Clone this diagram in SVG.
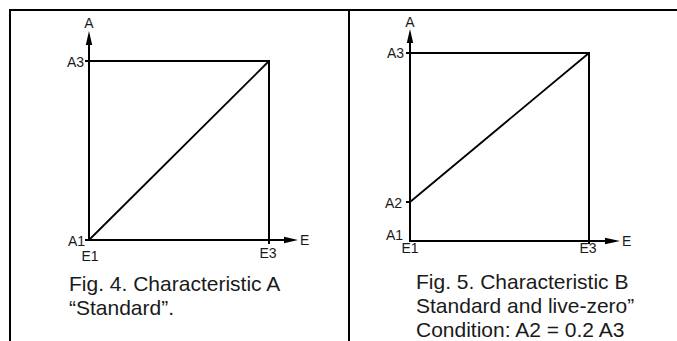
<svg xmlns="http://www.w3.org/2000/svg" width="677" height="341" viewBox="0 0 677 341">
<style>
.ln{stroke:#000;stroke-width:2;fill:none}
.dg{stroke:#000;stroke-width:1.8;fill:none}
.ah{fill:#000;stroke:none}
.lb{font-family:"Liberation Sans",Arial,sans-serif;font-size:14px;fill:#1a1a1a}
.cap{font-family:"Liberation Sans",Arial,sans-serif;font-size:21px;fill:#1a1a1a}
</style>
<rect width="677" height="341" fill="#fff"/>
<g id="frame">
<line class="ln" x1="9" y1="10" x2="677" y2="10"/>
<line class="ln" x1="10" y1="9" x2="10" y2="341"/>
<line class="ln" x1="349" y1="10" x2="349" y2="341"/>
</g>
<g id="chart-a">
<line class="ln" x1="89" y1="241" x2="89" y2="43"/>
<polygon class="ah" points="89,31 85.8,45 92.2,45"/>
<line class="ln" x1="88" y1="240" x2="286" y2="240"/>
<polygon class="ah" points="298,240 284,236.8 284,243.2"/>
<line class="ln" x1="85" y1="61" x2="270" y2="61"/>
<line class="ln" x1="269" y1="60" x2="269" y2="244"/>
<line class="ln" x1="85" y1="240" x2="89" y2="240"/>
<line class="dg" x1="89" y1="240" x2="269" y2="61"/>
<text class="lb" x="89" y="28" text-anchor="middle">A</text>
<text class="lb" x="84" y="66.5" text-anchor="end">A3</text>
<text class="lb" x="85" y="246" text-anchor="end">A1</text>
<text class="lb" x="90" y="261" text-anchor="middle">E1</text>
<text class="lb" x="268" y="258" text-anchor="middle">E3</text>
<text class="lb" x="300" y="245">E</text>
<text class="cap" x="69" y="290.5">Fig. 4. Characteristic A</text>
<text class="cap" x="69" y="315">“Standard”.</text>
</g>
<g id="chart-b">
<line class="ln" x1="410" y1="242" x2="410" y2="42"/>
<polygon class="ah" points="410,29 406.8,43 413.2,43"/>
<line class="ln" x1="409" y1="241" x2="607" y2="241"/>
<polygon class="ah" points="620,241 605,237.8 605,244.2"/>
<line class="ln" x1="406" y1="53" x2="590" y2="53"/>
<line class="ln" x1="589" y1="52" x2="589" y2="244"/>
<line class="ln" x1="406" y1="202" x2="410" y2="202"/>
<line class="dg" x1="410" y1="202" x2="589" y2="53"/>
<text class="lb" x="410" y="27" text-anchor="middle">A</text>
<text class="lb" x="404" y="58" text-anchor="end">A3</text>
<text class="lb" x="402" y="207.5" text-anchor="end">A2</text>
<text class="lb" x="403" y="240" text-anchor="end">A1</text>
<text class="lb" x="410" y="253" text-anchor="middle">E1</text>
<text class="lb" x="588" y="253" text-anchor="middle">E3</text>
<text class="lb" x="622" y="246">E</text>
<text class="cap" x="416" y="289">Fig. 5. Characteristic B</text>
<text class="cap" x="416" y="313">Standard and live-zero”</text>
<text class="cap" x="416" y="337">Condition: A2 = 0.2 A3</text>
</g>
</svg>
